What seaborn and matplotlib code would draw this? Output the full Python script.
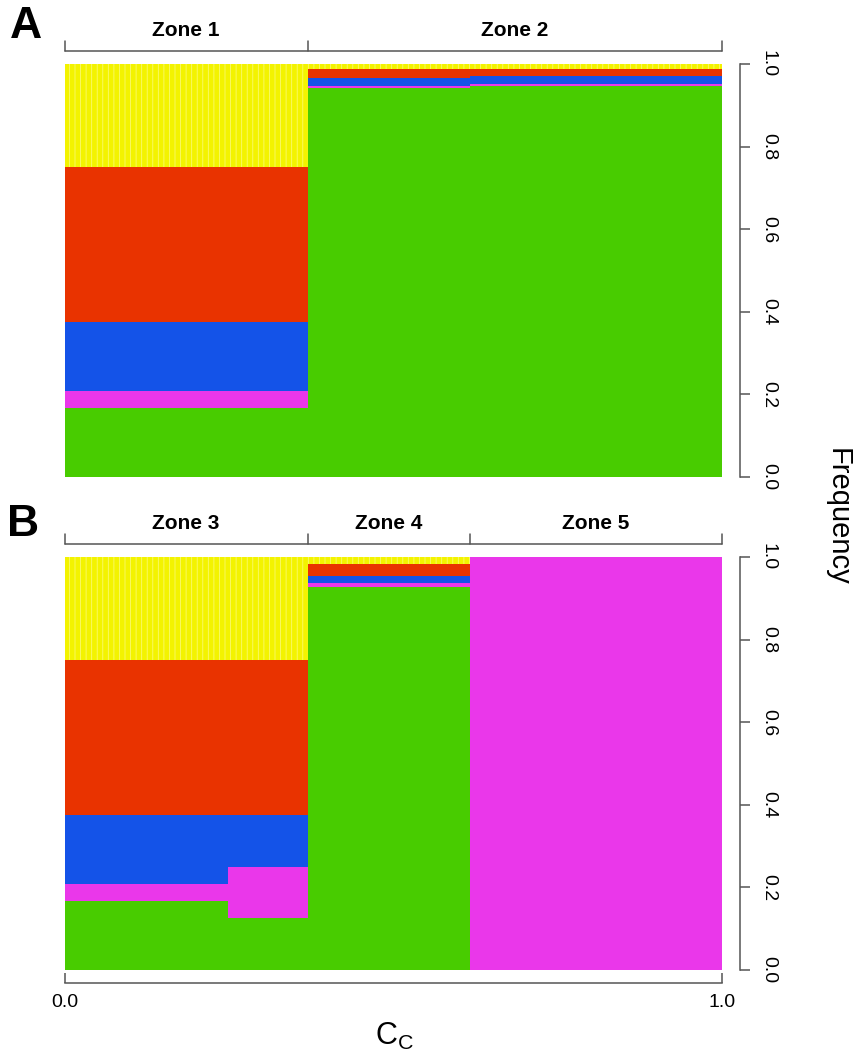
import numpy as np
import matplotlib
matplotlib.use('Agg')
import matplotlib.pyplot as plt
import matplotlib.transforms as mtransforms
import seaborn as sns

# Segment edges along C_c and stacked frequencies (bottom to top)
edges_A = [0.0, 0.37, 0.617, 1.0]
green_A = [0.166, 0.943, 0.947]
magenta_A = [0.042, 0.004, 0.004]
blue_A = [0.167, 0.019, 0.019]
red_A = [0.375, 0.021, 0.019]
yellow_A = [0.25, 0.013, 0.011]

edges_B = [0.0, 0.248, 0.37, 0.617, 1.0]
green_B = [0.166, 0.125, 0.928, 0.0]
magenta_B = [0.042, 0.125, 0.008, 1.0]
blue_B = [0.167, 0.125, 0.018, 0.0]
red_B = [0.375, 0.375, 0.028, 0.0]
yellow_B = [0.25, 0.25, 0.018, 0.0]

zones_A = [0.0, 0.37, 1.0]
zone_labels_A = ['Zone 1', 'Zone 2']
zones_B = [0.0, 0.37, 0.617, 1.0]
zone_labels_B = ['Zone 3', 'Zone 4', 'Zone 5']

y_ticks = [0.0, 0.2, 0.4, 0.6, 0.8, 1.0]
x_ticks = [0.0, 1.0]

colors = {
    'green': '#48cc00',
    'magenta': '#ea37ea',
    'blue': '#1453e8',
    'red': '#e93300',
    'yellow': '#f3f300',
}

sns.set_theme(style='white')
plt.rcParams['font.family'] = ['Liberation Sans', 'DejaVu Sans']
plt.rcParams['hatch.linewidth'] = 0.6
plt.rcParams['text.color'] = 'black'
plt.rcParams['xtick.labelcolor'] = 'black'
plt.rcParams['ytick.labelcolor'] = 'black'
axis_col = '#555555'

fig = plt.figure(figsize=(8.57, 10.56), dpi=100)
ax_a = fig.add_axes([0.0753, 0.5483, 0.7672, 0.3911])
ax_b = fig.add_axes([0.0753, 0.0814, 0.7672, 0.3911])


def draw_stack(ax, edges, layers):
    left = np.array(edges[:-1])
    width = np.diff(edges)
    bottom = np.zeros(len(left))
    for name, vals in layers:
        vals = np.array(vals)
        if name == 'yellow':
            ax.bar(left, vals, width=width, bottom=bottom, align='edge',
                   color=colors[name], edgecolor='#fafa70', linewidth=0,
                   hatch='|||')
        else:
            ax.bar(left, vals, width=width, bottom=bottom, align='edge',
                   color=colors[name], linewidth=0)
        bottom = bottom + vals


def draw_zones(ax, edges, labels):
    trans = mtransforms.blended_transform_factory(ax.transData, ax.transAxes)
    y0, y1 = 1.0305, 1.055
    ax.plot([edges[0], edges[-1]], [y0, y0], color=axis_col, lw=1.1,
            transform=trans, clip_on=False)
    for e in edges:
        ax.plot([e, e], [y0, y1], color=axis_col, lw=1.1,
                transform=trans, clip_on=False)
    for i, lab in enumerate(labels):
        ax.text((edges[i] + edges[i + 1]) / 2, 1.081, lab, transform=trans,
                ha='center', va='center', fontsize=15, fontweight='bold',
                color='black')


def style_axes(ax, show_x):
    ax.set_xlim(0, 1)
    ax.set_ylim(0, 1)
    for side in ['top', 'left']:
        ax.spines[side].set_visible(False)
    ax.spines['right'].set_position(('outward', 13))
    ax.spines['right'].set_bounds(0, 1)
    ax.spines['right'].set_color(axis_col)
    ax.spines['right'].set_linewidth(1.1)
    ax.yaxis.tick_right()
    ax.set_yticks(y_ticks)
    ax.set_yticklabels([f'{t:.1f}' for t in y_ticks])
    ax.tick_params(axis='y', direction='out', length=7.2, width=1.1,
                   color=axis_col, labelcolor='black', pad=7, labelsize=14,
                   labelrotation=-90)
    for lab in ax.get_yticklabels():
        lab.set_verticalalignment('center')
    if show_x:
        ax.spines['bottom'].set_position(('outward', 9.4))
        ax.spines['bottom'].set_bounds(0, 1)
        ax.spines['bottom'].set_color(axis_col)
        ax.spines['bottom'].set_linewidth(1.1)
        ax.set_xticks(x_ticks)
        ax.set_xticklabels([f'{t:.1f}' for t in x_ticks])
        ax.tick_params(axis='x', direction='in', length=7.2, width=1.1,
                       color=axis_col, labelcolor='black', pad=8,
                       labelsize=14, bottom=True)
    else:
        ax.spines['bottom'].set_visible(False)
        ax.set_xticks([])
    ax.grid(False)


draw_stack(ax_a, edges_A, [('green', green_A), ('magenta', magenta_A),
                           ('blue', blue_A), ('red', red_A),
                           ('yellow', yellow_A)])
draw_stack(ax_b, edges_B, [('green', green_B), ('magenta', magenta_B),
                           ('blue', blue_B), ('red', red_B),
                           ('yellow', yellow_B)])

style_axes(ax_a, False)
style_axes(ax_b, True)
draw_zones(ax_a, zones_A, zone_labels_A)
draw_zones(ax_b, zones_B, zone_labels_B)

fig.text(26 / 857, 1 - 27 / 1056, 'A', fontsize=32, fontweight='bold',
         ha='center', va='center', color='black')
fig.text(23 / 857, 1 - 524 / 1056, 'B', fontsize=32, fontweight='bold',
         ha='center', va='center', color='black')
fig.text(838 / 857, 1 - 517 / 1056, 'Frequency', fontsize=21,
         rotation=-90, ha='center', va='center', color='black')
fig.text(394 / 857, 1 - 1036 / 1056, r'$\mathregular{C_C}$', fontsize=22,
         ha='center', va='center', color='black')

fig.savefig('out.png', dpi=100)
